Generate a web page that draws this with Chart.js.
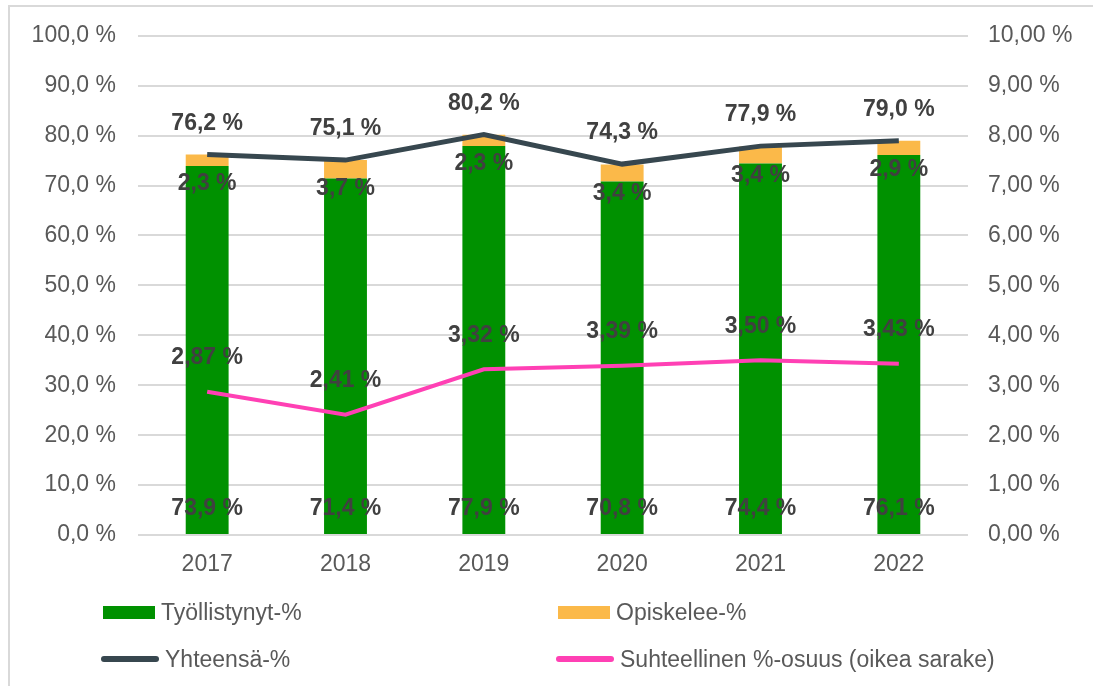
<!DOCTYPE html>
<html>
<head>
<meta charset="utf-8">
<script src="https://cdn.jsdelivr.net/npm/chart.js@4/dist/chart.umd.min.js"></script>
<style>
  html, body { margin: 0; padding: 0; background: #fff; overflow: hidden; }
  #wrap { position: relative; width: 1093px; height: 686px; }
  #frame { position: absolute; left: 8px; top: 5px; width: 1200px; height: 800px;
           border-left: 2px solid #d9d9d9; border-top: 2px solid #d9d9d9; }
  #legend { position: absolute; left: 0; top: 0; width: 1093px; height: 686px; pointer-events: none;
            font-family: "Liberation Sans", Arial, sans-serif; font-size: 23px; color: #595959; }
  .item { position: absolute; display: flex; align-items: center; height: 26px; white-space: nowrap; }
  .sw { display: inline-block; margin-right: 6px; }
</style>
</head>
<body>
<div id="wrap">
  <div id="frame"></div>
  <canvas id="chart" width="1093" height="686"></canvas>
  <div id="legend"></div>
</div>
<script>
// Data
const years = ['2017', '2018', '2019', '2020', '2021', '2022'];
const tyollistynyt = [73.9, 71.4, 77.9, 70.8, 74.4, 76.1];
const opiskelee = [2.3, 3.7, 2.3, 3.4, 3.4, 2.9];
const yhteensa = [76.2, 75.1, 80.2, 74.3, 77.9, 79.0];
const suhteellinen = [2.87, 2.41, 3.32, 3.39, 3.50, 3.43];

const FONT = '"Liberation Sans", Arial, sans-serif';
const TICK_COLOR = '#595959';
const LABEL_COLOR = '#404040';
const GRID = '#d9d9d9';

function fi(v, d) {
    return v.toFixed(d).replace('.', ',') + ' %';
}

// Piirretään arvojen tekstit (datalabels-tyyliin)
const labelPlugin = {
    id: 'valueLabels',
    afterDatasetsDraw(chart) {
        const ctx = chart.ctx;
        ctx.save();
        ctx.font = 'bold 23px ' + FONT;
        ctx.fillStyle = LABEL_COLOR;
        ctx.textAlign = 'center';
        ctx.textBaseline = 'middle';
        chart.data.datasets.forEach((ds, i) => {
            const meta = chart.getDatasetMeta(i);
            meta.data.forEach((el, j) => {
                const txt = fi(ds.data[j], ds.decimals);
                let y;
                if (ds.labelPos === 'base') y = el.base - 25;
                else if (ds.labelPos === 'belowTop') y = el.y + 29;
                else y = el.y - ds.labelOffset;
                ctx.fillText(txt, el.x, y);
            });
        });
        ctx.restore();
    }
};

const chart = new Chart(document.getElementById('chart'), {
    type: 'bar',
    data: {
        labels: years,
        datasets: [
            { label: 'Työllistynyt-%', data: tyollistynyt, yAxisID: 'y', stack: 'bars',
              backgroundColor: '#009100', order: 1, labelPos: 'base', decimals: 1 },
            { label: 'Opiskelee-%', data: opiskelee, yAxisID: 'y', stack: 'bars',
              backgroundColor: '#fbb949', order: 1, labelPos: 'belowTop', decimals: 1 },
            { type: 'line', label: 'Yhteensä-%', data: yhteensa, yAxisID: 'y', stack: 'total',
              borderColor: '#37474f', backgroundColor: '#37474f', borderWidth: 5, pointRadius: 0,
              tension: 0, order: 0, labelOffset: 31, decimals: 1 },
            { type: 'line', label: 'Suhteellinen %-osuus (oikea sarake)', data: suhteellinen, yAxisID: 'y1',
              borderColor: '#ff40b4', backgroundColor: '#ff40b4', borderWidth: 4, pointRadius: 0,
              tension: 0, order: 0, labelOffset: 34, decimals: 2 },
        ],
    },
    options: {
        responsive: false,
        animation: false,
        layout: { padding: { top: 35, bottom: 111, left: 0, right: 0 } },
        plugins: { legend: { display: false }, tooltip: { enabled: false } },
        datasets: { bar: { categoryPercentage: 1, barPercentage: 0.31 } },
        scales: {
            x: {
                stacked: true,
                grid: { display: false, drawTicks: false },
                border: { display: false },
                ticks: { color: TICK_COLOR, font: { family: FONT, size: 23 }, padding: 16 },
                afterFit(s) { s.height = 40; },
            },
            y: {
                stacked: true,
                position: 'left',
                min: 0, max: 100,
                ticks: { stepSize: 10, color: TICK_COLOR, font: { family: FONT, size: 23 }, padding: 22,
                         callback: v => fi(v, 1) },
                grid: { color: GRID, lineWidth: 2, drawTicks: false },
                border: { display: false },
                afterFit(s) { s.width = 138; },
            },
            y1: {
                position: 'right',
                min: 0, max: 10,
                ticks: { stepSize: 1, color: TICK_COLOR, font: { family: FONT, size: 23 }, padding: 20,
                         callback: v => fi(v, 2) },
                grid: { display: false, drawTicks: false },
                border: { display: false },
                afterFit(s) { s.width = 125; },
            },
        },
    },
    plugins: [labelPlugin],
});

// Selite HTML:nä kahteen sarakkeeseen
const legendSpots = {
    'Työllistynyt-%': [103, 599],
    'Opiskelee-%': [558, 599],
    'Yhteensä-%': [101, 646],
    'Suhteellinen %-osuus (oikea sarake)': [556, 646],
};
const legendEl = document.getElementById('legend');
chart.data.datasets.forEach(ds => {
    const pos = legendSpots[ds.label];
    const item = document.createElement('div');
    item.className = 'item';
    item.style.left = pos[0] + 'px';
    item.style.top = pos[1] + 'px';
    const sw = document.createElement('span');
    sw.className = 'sw';
    sw.style.background = ds.backgroundColor;
    if (ds.type === 'line') {
        sw.style.width = '58px'; sw.style.height = '6px'; sw.style.borderRadius = '3px';
    } else {
        sw.style.width = '52px'; sw.style.height = '13px';
    }
    const tx = document.createElement('span');
    tx.textContent = ds.label;
    item.appendChild(sw);
    item.appendChild(tx);
    legendEl.appendChild(item);
});
</script>
</body>
</html>
